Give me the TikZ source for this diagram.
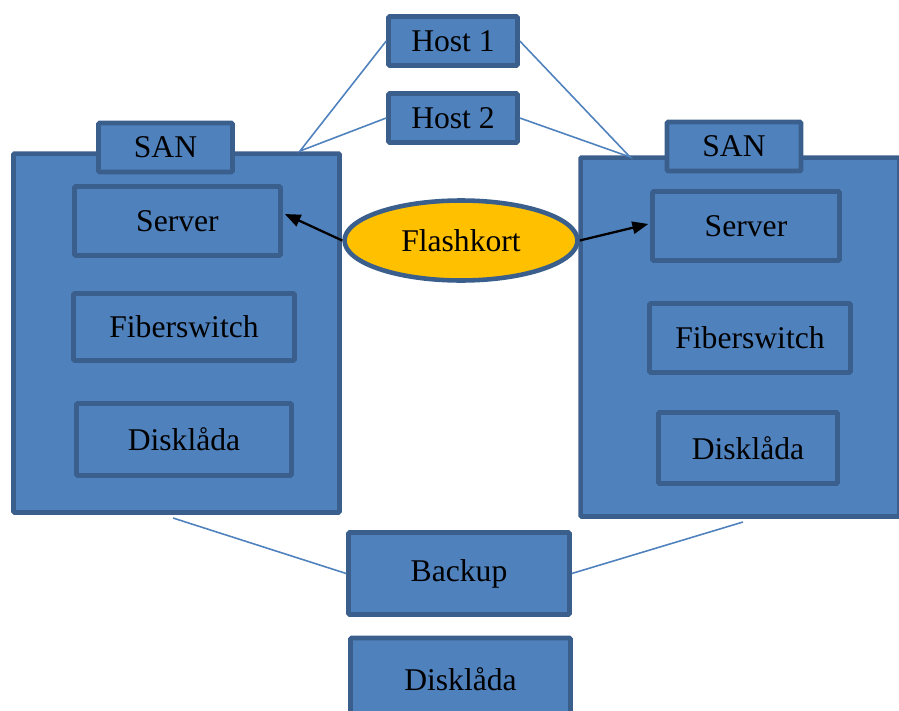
\documentclass[tikz,border=0pt]{standalone}
\usepackage{fontspec}
\setmainfont{Liberation Serif}
\usetikzlibrary{arrows.meta,shapes.geometric}
\definecolor{boxfill}{HTML}{4F81BD}
\definecolor{boxline}{HTML}{3A5F8C}
\definecolor{flash}{HTML}{FFC000}
\begin{document}
\begin{tikzpicture}[x=0.02cm,y=-0.02cm,
  box/.style={draw=boxline,fill=boxfill,line width=2.6pt,rounded corners=0.6pt,
    inner sep=0pt,font=\fontsize{18}{20}\selectfont},
  wire/.style={draw=boxfill,line width=0.9pt},
  pil/.style={-{Triangle[length=9pt,width=7pt]},line width=1.3pt,black}]
\useasboundingbox (0,0) rectangle (899,710);
% left SAN
\node[box,minimum width=6.52cm,minimum height=7.18cm] (lsan) at (176.5,333) {};
\node[box,minimum width=2.68cm,minimum height=0.98cm] (ltab) at (165.5,147.5) {SAN};
\node[box,minimum width=4.12cm,minimum height=1.38cm] (lserver) at (177.5,221) {Server};
\node[box,minimum width=4.42cm,minimum height=1.34cm] (lfiber) at (184,327) {Fiberswitch};
\node[box,minimum width=4.3cm,minimum height=1.44cm] (ldisk) at (184,439.5) {Disklåda};
% right SAN
\node[box,minimum width=6.38cm,minimum height=7.18cm] (rsan) at (740,337) {};
\node[box,minimum width=2.68cm,minimum height=0.98cm] (rtab) at (734,146.5) {SAN};
\node[box,minimum width=3.74cm,minimum height=1.38cm] (rserver) at (746,226) {Server};
\node[box,minimum width=4.02cm,minimum height=1.38cm] (rfiber) at (750,338) {Fiberswitch};
\node[box,minimum width=3.58cm,minimum height=1.42cm] (rdisk) at (748,448) {Disklåda};
% hosts
\node[box,minimum width=2.58cm,minimum height=0.98cm] (host1) at (453,41) {Host 1};
\node[box,minimum width=2.58cm,minimum height=0.98cm] (host2) at (453,118) {Host 2};
% backup
\node[box,minimum width=4.42cm,minimum height=1.64cm] (backup) at (459,573.5) {Backup};
\node[box,minimum width=4.4cm,minimum height=1.64cm] (bdisk) at (460.5,679) {Disklåda};
% flashkort
\node[ellipse,draw=boxline,fill=flash,line width=2.6pt,minimum width=4.66cm,minimum height=1.6cm,
  inner sep=0pt,font=\fontsize{18}{20}\selectfont] (flash) at (461,240.5) {Flashkort};
\coordinate (ltop) at (300,151);
\coordinate (rtop) at (630,157);
\coordinate (lbot) at (173,518);
\coordinate (rbot) at (743,522);
\draw[wire] (host1.west) -- (ltop) -- (host2.west);
\draw[wire] (host1.east) -- (rtop) -- (host2.east);
\draw[wire] (backup.west) -- (lbot);
\draw[wire] (backup.east) -- (rbot);
\draw[pil] (flash.west) -- ([shift={(2,-7)}]lserver.east);
\draw[pil] (flash.east) -- ([shift={(-2,-2)}]rserver.west);
\end{tikzpicture}
\end{document}
